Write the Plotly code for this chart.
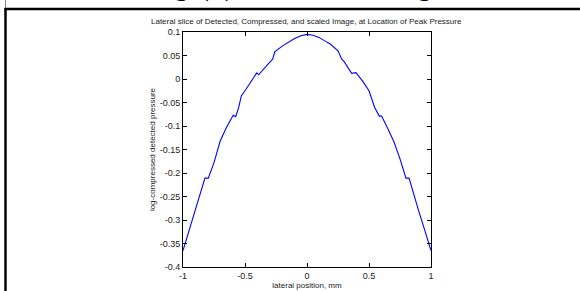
import plotly.graph_objects as go

# Data
lateral_mm = [-1.00, -0.95, -0.90, -0.85, -0.823, -0.796, -0.75, -0.70, -0.65, -0.595, -0.575,
              -0.55, -0.53, -0.50, -0.45, -0.405, -0.39, -0.35, -0.30, -0.277, -0.26, -0.20,
              -0.15, -0.10, -0.05, 0.00, 0.05, 0.10, 0.15, 0.19, 0.25, 0.28, 0.30, 0.36,
              0.395, 0.45, 0.50, 0.53, 0.545, 0.583, 0.602, 0.65, 0.70, 0.75, 0.798, 0.823,
              0.85, 0.90, 0.95, 1.00]
log_pressure = [-0.365, -0.322, -0.278, -0.235, -0.211, -0.211, -0.178, -0.132, -0.103, -0.077, -0.080,
                -0.060, -0.036, -0.025, -0.004, 0.013, 0.009, 0.022, 0.036, 0.042, 0.058, 0.070,
                0.078, 0.086, 0.092, 0.095, 0.093, 0.088, 0.080, 0.074, 0.060, 0.042, 0.037, 0.012,
                0.0135, -0.005, -0.025, -0.050, -0.060, -0.079, -0.079, -0.105, -0.133, -0.170, -0.211, -0.211,
                -0.237, -0.280, -0.322, -0.365]

x_ticks = [-1, -0.5, 0, 0.5, 1]
x_tick_labels = ["-1", "-0.5", "0", "0.5", "1"]
y_ticks = [0.1, 0.05, 0, -0.05, -0.1, -0.15, -0.2, -0.25, -0.3, -0.35, -0.4]
y_tick_labels = ["0.1", "0.05", "0", "-0.05", "-0.1", "-0.15", "-0.2", "-0.25", "-0.3", "-0.35", "-0.4"]

W, H = 580, 291
L, R, T, B = 183, 431, 32, 267

def px(xp):
    return (xp - L) / (R - L)

def py(yp):
    return (B - yp) / (B - T)

FONT = "Liberation Sans, Arial, sans-serif"
TXT = "#1a1a1a"

fig = go.Figure()
fig.add_trace(go.Scatter(x=lateral_mm, y=log_pressure, mode="lines",
                         line=dict(color="#0000ff", width=1.1), showlegend=False,
                         hoverinfo="skip"))

axis_common = dict(showline=True, linecolor="black", linewidth=1, mirror="ticks",
                   ticks="inside", ticklen=4, tickcolor="black", tickwidth=1,
                   showgrid=False, zeroline=False, automargin=False,
                   tickfont=dict(family=FONT, size=9, color=TXT))

fig.update_xaxes(range=[-1, 1], tickvals=x_ticks, ticktext=x_tick_labels,
                 title=dict(text="lateral position, mm", font=dict(family=FONT, size=8, color=TXT), standoff=2),
                 **axis_common)
fig.update_yaxes(range=[-0.4, 0.1], tickvals=y_ticks, ticktext=y_tick_labels,
                 title=dict(text="log-compressed detected pressure", font=dict(family=FONT, size=8, color=TXT), standoff=2),
                 **axis_common)

shapes = [
    dict(type="line", xref="paper", yref="paper", x0=px(5.5), x1=px(5.5), y0=py(0), y1=py(8),
         line=dict(color="#888", width=1)),
    dict(type="line", xref="paper", yref="paper", x0=px(5.5), x1=px(5.5), y0=py(8), y1=py(291),
         line=dict(color="black", width=2.5)),
    dict(type="line", xref="paper", yref="paper", x0=px(4.5), x1=px(580), y0=py(9), y1=py(9),
         line=dict(color="black", width=2.5)),
]

annotations = [
    dict(text="Lateral slice of Detected, Compressed, and scaled Image, at Location of Peak Pressure",
         xref="paper", yref="paper", x=px(306), y=py(21), xanchor="center", yanchor="middle",
         showarrow=False, font=dict(family=FONT, size=8, color=TXT)),
]
for txt, xc in [("g", 181), ("(", 204), (")", 229), ("g", 424)]:
    annotations.append(dict(text="<b>" + txt + "</b>", xref="paper", yref="paper", x=px(xc), y=py(-12.5),
                            xanchor="center", yanchor="middle", showarrow=False,
                            font=dict(family="Liberation Serif, Times New Roman, serif", size=26, color="black"),
                            ))

fig.update_layout(width=W, height=H, margin=dict(l=L, r=W - R, t=T, b=H - B),
                  paper_bgcolor="white", plot_bgcolor="white",
                  shapes=shapes, annotations=annotations)

fig.write_html("out.html", config={"displayModeBar": False},
               post_script="document.body.style.margin='0';document.body.style.overflow='hidden';")
